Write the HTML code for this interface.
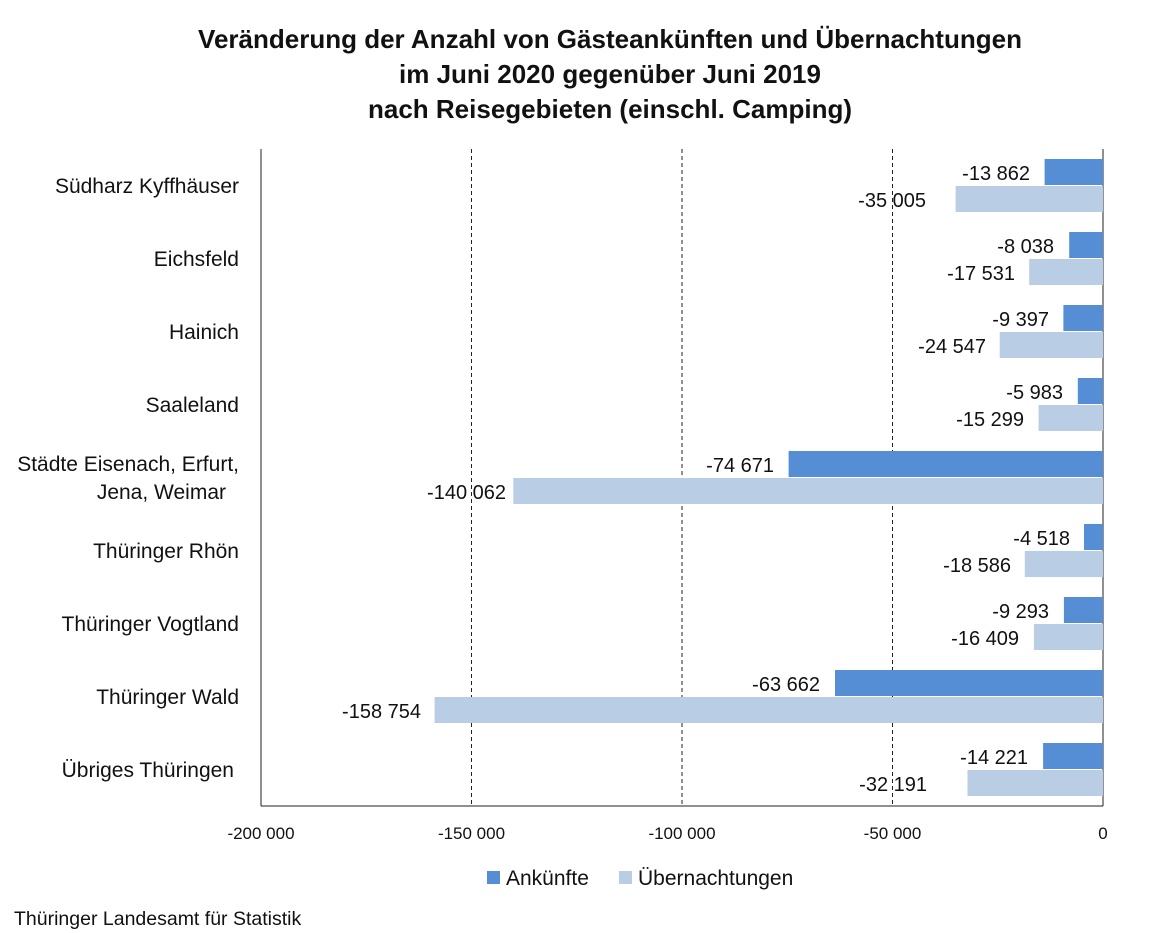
<!DOCTYPE html>
<html><head><meta charset="utf-8"><style>body{margin:0;background:#fff}svg{display:block}</style></head>
<body>
<svg width="1149" height="933" xmlns="http://www.w3.org/2000/svg" font-family="'Liberation Sans', 'DejaVu Sans', sans-serif">
<rect width="1149" height="933" fill="#fff"/>
<g font-weight="bold" font-size="26" text-anchor="middle" fill="#111">
<text x="610" y="48">Veränderung der Anzahl von Gästeankünften und Übernachtungen</text>
<text x="610" y="83">im Juni 2020 gegenüber Juni 2019</text>
<text x="610" y="118">nach Reisegebieten (einschl. Camping)</text>
</g>
<g stroke="#222" stroke-dasharray="4,3" stroke-width="1">
<line x1="471.5" y1="149" x2="471.5" y2="806"/>
<line x1="682" y1="149" x2="682" y2="806"/>
<line x1="892.5" y1="149" x2="892.5" y2="806"/>
</g>
<line x1="261" y1="149" x2="261" y2="806" stroke="#222"/>
<line x1="261" y1="806" x2="1103" y2="806" stroke="#222"/>
<line x1="1103" y1="149" x2="1103" y2="806" stroke="#222"/>
<g font-size="17" text-anchor="middle" fill="#111">
<text x="261" y="839">-200 000</text><text x="471.5" y="839">-150 000</text><text x="682" y="839">-100 000</text><text x="892.5" y="839">-50 000</text><text x="1103" y="839">0</text>
</g>
<g font-size="21" text-anchor="end" fill="#111">
<text x="239" y="193">Südharz Kyffhäuser</text>
<text x="239" y="266">Eichsfeld</text>
<text x="239" y="339">Hainich</text>
<text x="239" y="412">Saaleland</text>
<text x="239" y="471">Städte Eisenach, Erfurt,</text>
<text x="226" y="499">Jena, Weimar</text>
<text x="239" y="558">Thüringer Rhön</text>
<text x="239" y="631">Thüringer Vogtland</text>
<text x="239" y="704">Thüringer Wald</text>
<text x="234" y="777">Übriges Thüringen</text>
</g>
<g fill="#558ED5">
<rect x="1044.6" y="159" width="58.4" height="26"/>
<rect x="1069.2" y="232" width="33.8" height="26"/>
<rect x="1063.4" y="305" width="39.6" height="26"/>
<rect x="1077.8" y="378" width="25.2" height="26"/>
<rect x="788.6" y="451" width="314.4" height="26"/>
<rect x="1084" y="524" width="19" height="26"/>
<rect x="1063.9" y="597" width="39.1" height="26"/>
<rect x="835" y="670" width="268" height="26"/>
<rect x="1043.1" y="743" width="59.9" height="26"/>
</g>
<g fill="#B9CDE5">
<rect x="955.6" y="186" width="147.4" height="26"/>
<rect x="1029.2" y="259" width="73.8" height="26"/>
<rect x="999.7" y="332" width="103.3" height="26"/>
<rect x="1038.6" y="405" width="64.4" height="26"/>
<rect x="513.3" y="478" width="589.7" height="26"/>
<rect x="1024.8" y="551" width="78.2" height="26"/>
<rect x="1033.9" y="624" width="69.1" height="26"/>
<rect x="434.6" y="697" width="668.4" height="26"/>
<rect x="967.5" y="770" width="135.5" height="26"/>
</g>
<g font-size="20" text-anchor="end" fill="#111">
<text x="1030" y="180">-13 862</text><text x="926" y="207">-35 005</text>
<text x="1054" y="253">-8 038</text><text x="1015" y="280">-17 531</text>
<text x="1049" y="326">-9 397</text><text x="986" y="353">-24 547</text>
<text x="1063" y="399">-5 983</text><text x="1024" y="426">-15 299</text>
<text x="774" y="472">-74 671</text><text x="506" y="499">-140 062</text>
<text x="1070" y="545">-4 518</text><text x="1011" y="572">-18 586</text>
<text x="1049" y="618">-9 293</text><text x="1019" y="645">-16 409</text>
<text x="820" y="691">-63 662</text><text x="421" y="718">-158 754</text>
<text x="1028" y="764">-14 221</text><text x="927" y="791">-32 191</text>
</g>
<rect x="487" y="871" width="13" height="13" fill="#558ED5"/>
<text x="506" y="885" font-size="21" fill="#111">Ankünfte</text>
<rect x="619" y="871" width="13" height="13" fill="#B9CDE5"/>
<text x="638" y="885" font-size="21" fill="#111">Übernachtungen</text>
<text x="14" y="925" font-size="19.5" fill="#111">Thüringer Landesamt für Statistik</text>
</svg>
</body></html>
